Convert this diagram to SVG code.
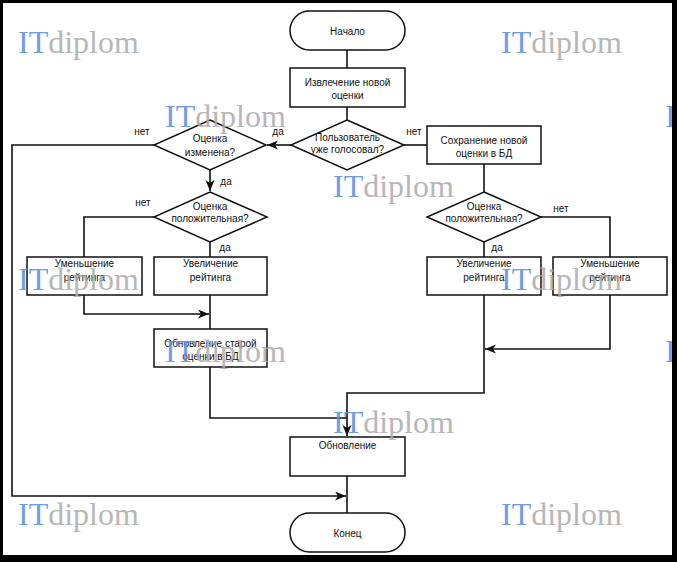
<svg xmlns="http://www.w3.org/2000/svg" width="677" height="562" viewBox="0 0 677 562">
<style>
.box{fill:#fff;stroke:#111;stroke-width:1.5}
.ln{fill:none;stroke:#111;stroke-width:1.6}
.t{font-family:"Liberation Sans",Arial,sans-serif;font-size:10px;fill:#111;text-anchor:middle}
.lb{font-family:"Liberation Sans",Arial,sans-serif;font-size:10px;fill:#111;text-anchor:middle}
.wm{font-family:"Liberation Serif","Times New Roman",serif;font-size:32px;opacity:0.85}
.wi{fill:#5a8de0}
.wd{fill:#ababab}
</style>
<defs>
<marker id="arr" markerUnits="userSpaceOnUse" markerWidth="12" markerHeight="10" refX="11" refY="4.5" orient="auto">
<path d="M0,0 L11,4.5 L0,9 L3,4.5 z" fill="#111"/>
</marker>
</defs>
<rect x="0" y="0" width="677" height="562" fill="#fff"/>
<g id="connectors">
<path class="ln" d="M347,50 V68"/>
<path class="ln" d="M347,107 V120"/>
<path class="ln" d="M291,145 H267" marker-end="url(#arr)"/>
<path class="ln" d="M404,145 H427"/>
<path class="ln" d="M154,145 H12 V496 H346" marker-end="url(#arr)"/>
<path class="ln" d="M347,476 V513"/>
<path class="ln" d="M210,170 V191" marker-end="url(#arr)"/>
<path class="ln" d="M154,217 H84 V257"/>
<path class="ln" d="M210,242 V257"/>
<path class="ln" d="M84,295 V314 H209" marker-end="url(#arr)"/>
<path class="ln" d="M210,295 V329"/>
<path class="ln" d="M210,367 V418 H347"/>
<path class="ln" d="M484,164 V192"/>
<path class="ln" d="M541,217 H610 V257"/>
<path class="ln" d="M484,242 V257"/>
<path class="ln" d="M610,295 V349 H485" marker-end="url(#arr)"/>
<path class="ln" d="M484,295 V393 H347 V436" marker-end="url(#arr)"/>
</g>
<g id="start"><rect class="box" x="290" y="11" width="115" height="39" rx="19.5"/><text class="t" x="347.5" y="35">Начало</text></g>
<g id="extract"><rect class="box" x="290" y="68" width="115" height="39"/><text class="t" x="347.5" y="86">Извлечение новой</text><text class="t" x="347.5" y="99">оценки</text></g>
<g id="voted"><polygon class="box" points="347,120 404,145 347,170 291,145"/><text class="t" x="347.5" y="141">Пользователь</text><text class="t" x="347.5" y="153">уже голосовал?</text></g>
<g id="changed"><polygon class="box" points="210,120 266,145 210,170 154,145"/><text class="t" x="210" y="142">Оценка</text><text class="t" x="210" y="156">изменена?</text></g>
<g id="save"><rect class="box" x="427" y="126" width="114" height="38"/><text class="t" x="484" y="144">Сохранение новой</text><text class="t" x="484" y="157">оценки в БД</text></g>
<g id="pos-left"><polygon class="box" points="210,192 267,217 210,242 154,217"/><text class="t" x="210" y="210">Оценка</text><text class="t" x="210" y="222">положительная?</text></g>
<g id="pos-right"><polygon class="box" points="484,192 541,217 484,242 427,217"/><text class="t" x="484" y="210">Оценка</text><text class="t" x="484" y="222">положительная?</text></g>
<g id="dec-left"><rect class="box" x="27" y="257" width="115" height="38"/><text class="t" x="84.5" y="267">Уменьшение</text><text class="t" x="84.5" y="281">рейтинга</text></g>
<g id="inc-left"><rect class="box" x="154" y="257" width="113" height="38"/><text class="t" x="210.5" y="267">Увеличение</text><text class="t" x="210.5" y="281">рейтинга</text></g>
<g id="update-old"><rect class="box" x="154" y="329" width="113" height="38"/><text class="t" x="210.5" y="347">Обновление старой</text><text class="t" x="210.5" y="360">оценки в БД</text></g>
<g id="inc-right"><rect class="box" x="427" y="257" width="114" height="38"/><text class="t" x="484" y="267">Увеличение</text><text class="t" x="484" y="281">рейтинга</text></g>
<g id="dec-right"><rect class="box" x="553" y="257" width="114" height="38"/><text class="t" x="610" y="267">Уменьшение</text><text class="t" x="610" y="281">рейтинга</text></g>
<g id="update"><rect class="box" x="290" y="437" width="115" height="39"/><text class="t" x="347.5" y="449">Обновление</text></g>
<g id="end"><rect class="box" x="290" y="513" width="115" height="39" rx="19.5"/><text class="t" x="347.5" y="537">Конец</text></g>
<g id="labels">
<text class="lb" x="142" y="135">нет</text>
<text class="lb" x="278" y="135">да</text>
<text class="lb" x="414" y="135">нет</text>
<text class="lb" x="226" y="185">да</text>
<text class="lb" x="143" y="206">нет</text>
<text class="lb" x="225" y="251">да</text>
<text class="lb" x="561" y="212">нет</text>
<text class="lb" x="497" y="251">да</text>
</g>
<g id="watermarks" class="wm">
<text x="18" y="53"><tspan class="wi">IT</tspan><tspan class="wd">diplom</tspan></text>
<text x="501" y="53"><tspan class="wi">IT</tspan><tspan class="wd">diplom</tspan></text>
<text x="165" y="127"><tspan class="wi">IT</tspan><tspan class="wd">diplom</tspan></text>
<text x="665" y="127"><tspan class="wi">IT</tspan><tspan class="wd">diplom</tspan></text>
<text x="333" y="197"><tspan class="wi">IT</tspan><tspan class="wd">diplom</tspan></text>
<text x="18" y="290"><tspan class="wi">IT</tspan><tspan class="wd">diplom</tspan></text>
<text x="501" y="290"><tspan class="wi">IT</tspan><tspan class="wd">diplom</tspan></text>
<text x="165" y="362"><tspan class="wi">IT</tspan><tspan class="wd">diplom</tspan></text>
<text x="665" y="362"><tspan class="wi">IT</tspan><tspan class="wd">diplom</tspan></text>
<text x="333" y="433"><tspan class="wi">IT</tspan><tspan class="wd">diplom</tspan></text>
<text x="18" y="525"><tspan class="wi">IT</tspan><tspan class="wd">diplom</tspan></text>
<text x="501" y="525"><tspan class="wi">IT</tspan><tspan class="wd">diplom</tspan></text>
</g>
<path id="frame" fill="#000" fill-rule="evenodd" d="M0,0 H677 V562 H0 Z M3,3 V555 H672 V3 Z"/>
</svg>
